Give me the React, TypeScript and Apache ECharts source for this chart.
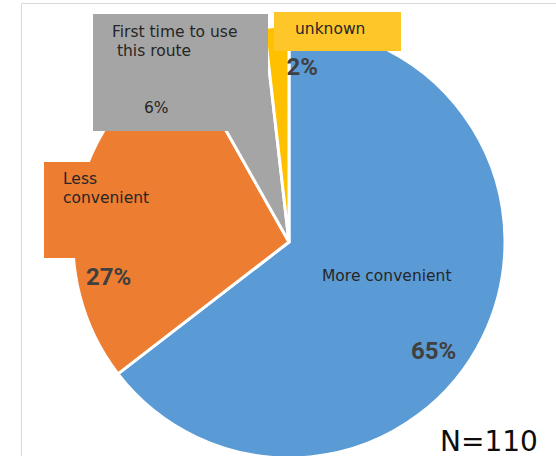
import React, { useEffect, useRef } from 'react';
import * as echarts from 'echarts';

// ---- data ----
const categories = ['More convenient', 'Less convenient', 'First time to use this route', 'unknown'];
const categoryLabels = ['More convenient', 'Less\nconvenient', 'First time to use\n this route', 'unknown'];
const counts = [71, 30, 7, 2];
const sampleSizeLabel = 'N=110';

// ---- styling / layout ----
const colors = ['#5b9bd5', '#ed7d31', '#a5a5a5', '#ffc000'];
const REG = '"DejaVu Sans", Verdana, sans-serif';
const BOLD = 'Roboto, "Noto Sans", sans-serif';
const CX = 289;
const CY = 242;
const R = 216;

const nameLabelPos: number[][] = [[322, 266], [44, 162], [93, 14], [274, 12]];
const pctLabelPos: (number[] | null)[] = [[411, 338.6], [86, 265.2], null, [286.5, 55.2]];

const nameLabelBox: any[] = [
  {},
  { backgroundColor: '#ed7d31', padding: [8, 0, 51, 19], width: 91, lineHeight: 18.5 },
  { backgroundColor: '#a5a5a5', padding: [8, 0, 14, 19], width: 156, lineHeight: 19 },
  { backgroundColor: '#ffc629', padding: [7, 0, 13, 21], width: 106, lineHeight: 19 },
];

export default function App() {
  const ref = useRef<HTMLDivElement>(null);
  useEffect(() => {
    const chart = echarts.init(ref.current as HTMLDivElement, null, { renderer: 'svg' });
    const option: any = {
      animation: false,
      backgroundColor: '#ffffff',
      graphic: [
        {
          type: 'rect',
          z: -10,
          shape: { x: 21.5, y: 3.5, width: 700, height: 700 },
          style: { fill: 'none', stroke: '#d9d9d9', lineWidth: 1 },
          silent: true,
        },
        {
          type: 'text',
          x: 440,
          y: 441,
          style: {
            text: sampleSizeLabel,
            fontFamily: REG,
            fontSize: 28,
            fill: '#0d0d0d',
            align: 'left',
            verticalAlign: 'middle',
          },
        },
      ],
      series: [
        {
          type: 'pie',
          center: [CX, CY],
          radius: R,
          startAngle: 90,
          clockwise: true,
          percentPrecision: 0,
          avoidLabelOverlap: false,
          itemStyle: { borderColor: '#ffffff', borderWidth: 3 },
          label: {
            show: true,
            position: 'inside',
            overflow: 'none',
            fontFamily: REG,
            fontSize: 15.5,
            color: '#262626',
            lineHeight: 19,
            align: 'left',
            verticalAlign: 'top',
            formatter: (p: any) =>
              p.dataIndex === 2
                ? `${categoryLabels[2]}\n\n\n{p|${p.percent}%}`
                : categoryLabels[p.dataIndex],
            rich: {
              p: { fontFamily: REG, fontSize: 15.5, color: '#262626', lineHeight: 19, padding: [0, 0, 0, 32] },
            },
          },
          labelLine: { show: false },
          labelLayout: (p: any) => {
            const pos = nameLabelPos[p.dataIndex];
            return { x: pos[0], y: pos[1], align: 'left', verticalAlign: 'top' };
          },
          emphasis: { disabled: true },
          data: counts.map((v, i) => ({
            value: v,
            name: categories[i],
            itemStyle: { color: colors[i] },
            label: { ...nameLabelBox[i] },
          })),
        },
        {
          type: 'pie',
          center: [CX, CY],
          radius: R,
          startAngle: 90,
          clockwise: true,
          percentPrecision: 0,
          silent: true,
          avoidLabelOverlap: false,
          itemStyle: { color: 'rgba(0,0,0,0)', borderWidth: 0 },
          label: {
            show: true,
            position: 'inside',
            overflow: 'none',
            fontFamily: BOLD,
            fontWeight: 'bold',
            fontSize: 24,
            lineHeight: 24,
            color: '#404040',
            formatter: (p: any) => `${p.percent}%`,
          },
          labelLine: { show: false },
          labelLayout: (p: any) => {
            const pos = pctLabelPos[p.dataIndex];
            if (!pos) return {};
            return { x: pos[0], y: pos[1], align: 'left', verticalAlign: 'top' };
          },
          emphasis: { disabled: true },
          data: counts.map((v, i) => ({
            value: v,
            name: categories[i],
            label: { show: pctLabelPos[i] !== null },
          })),
        },
      ],
    };
    chart.setOption(option);
    return () => chart.dispose();
  }, []);
  return (
    <div
      ref={ref}
      style={{ position: 'absolute', left: 0, top: 0, width: 556, height: 456 }}
    />
  );
}
